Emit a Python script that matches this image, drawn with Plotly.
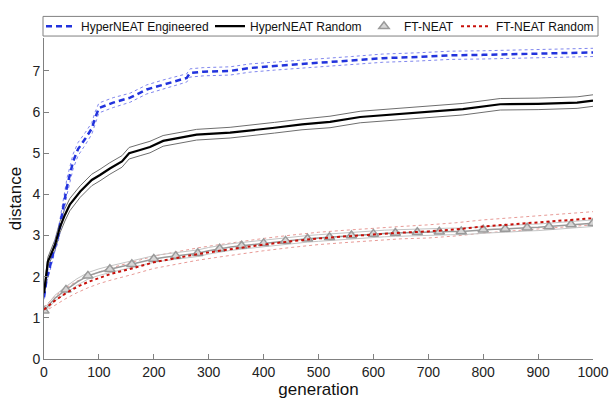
import plotly.graph_objects as go

# ---------------- data ----------------
hne_gen = [0, 5, 10, 16, 20, 26, 33, 42, 53, 62, 75, 87, 93, 100, 126, 157, 187, 217, 260, 266,
           290, 339, 375, 420, 497, 560, 617, 680, 740, 800, 873, 940, 1000]
hne_mean = [1.50, 1.96, 2.20, 2.53, 2.75, 3.00, 3.52, 4.20, 4.80, 5.10, 5.35, 5.60, 5.85, 6.10, 6.23, 6.35,
            6.55, 6.67, 6.83, 6.95, 6.98, 7.00, 7.07, 7.12, 7.19, 7.25, 7.31, 7.34, 7.38, 7.39, 7.41, 7.42, 7.45]
hne_up = [1.55, 2.05, 2.30, 2.65, 2.88, 3.15, 3.70, 4.40, 4.98, 5.26, 5.50, 5.74, 6.00, 6.22, 6.35, 6.46,
          6.66, 6.78, 6.93, 7.05, 7.08, 7.10, 7.17, 7.22, 7.29, 7.35, 7.41, 7.44, 7.48, 7.49, 7.51, 7.53, 7.55]
hne_lo = [1.45, 1.87, 2.10, 2.41, 2.62, 2.85, 3.34, 4.00, 4.62, 4.94, 5.20, 5.46, 5.70, 5.98, 6.11, 6.24,
          6.44, 6.56, 6.73, 6.85, 6.88, 6.90, 6.97, 7.02, 7.09, 7.15, 7.21, 7.24, 7.28, 7.29, 7.31, 7.32, 7.35]

hnr_gen = [0, 7, 20, 29, 38, 47, 66, 87, 102, 120, 142, 155, 175, 193, 217, 248, 278, 339, 375, 420,
           470, 521, 576, 648, 700, 763, 831, 900, 971, 1000]
hnr_mean = [1.60, 2.36, 2.77, 3.20, 3.50, 3.75, 4.07, 4.35, 4.47, 4.63, 4.80, 5.00, 5.08, 5.15, 5.30, 5.38,
            5.45, 5.50, 5.55, 5.62, 5.70, 5.76, 5.88, 5.95, 6.00, 6.07, 6.19, 6.20, 6.23, 6.28]
hnr_up = [1.68, 2.47, 2.90, 3.34, 3.65, 3.90, 4.21, 4.49, 4.61, 4.77, 4.94, 5.14, 5.22, 5.29, 5.43, 5.51,
          5.58, 5.63, 5.68, 5.75, 5.83, 5.90, 6.02, 6.09, 6.14, 6.21, 6.33, 6.34, 6.37, 6.42]
hnr_lo = [1.52, 2.25, 2.64, 3.06, 3.35, 3.60, 3.93, 4.21, 4.33, 4.49, 4.66, 4.86, 4.94, 5.01, 5.17, 5.25,
          5.32, 5.37, 5.42, 5.49, 5.57, 5.62, 5.74, 5.81, 5.86, 5.93, 6.05, 6.06, 6.09, 6.14]

ft_gen = [0, 20, 40, 60, 80, 100, 120, 140, 160, 180, 200, 220, 240, 260, 280, 300, 320, 340, 360, 380,
          400, 420, 440, 460, 480, 500, 520, 540, 560, 580, 600, 620, 640, 660, 680, 700, 720, 740, 760,
          780, 800, 820, 840, 860, 880, 900, 920, 940, 960, 980, 1000]
ft_mean = [1.17, 1.48, 1.68, 1.87, 2.02, 2.11, 2.18, 2.24, 2.30, 2.37, 2.43, 2.47, 2.50, 2.54, 2.57, 2.63,
           2.68, 2.72, 2.75, 2.78, 2.81, 2.84, 2.87, 2.90, 2.92, 2.94, 2.96, 2.98, 3.00, 3.02, 3.04, 3.05,
           3.06, 3.07, 3.08, 3.08, 3.09, 3.10, 3.10, 3.12, 3.14, 3.15, 3.16, 3.18, 3.19, 3.20, 3.22, 3.24,
           3.27, 3.28, 3.30]
ft_up = [1.22, 1.55, 1.76, 1.95, 2.10, 2.19, 2.26, 2.32, 2.38, 2.45, 2.51, 2.55, 2.58, 2.62, 2.65, 2.71,
         2.76, 2.80, 2.83, 2.86, 2.89, 2.92, 2.95, 2.98, 3.00, 3.02, 3.04, 3.06, 3.08, 3.10, 3.12, 3.13,
         3.14, 3.15, 3.16, 3.16, 3.17, 3.18, 3.18, 3.20, 3.22, 3.23, 3.24, 3.26, 3.27, 3.28, 3.30, 3.32,
         3.35, 3.36, 3.38]
ft_lo = [1.12, 1.41, 1.60, 1.79, 1.94, 2.03, 2.10, 2.16, 2.22, 2.29, 2.35, 2.39, 2.42, 2.46, 2.49, 2.55,
         2.60, 2.64, 2.67, 2.70, 2.73, 2.76, 2.79, 2.82, 2.84, 2.86, 2.88, 2.90, 2.92, 2.94, 2.96, 2.97,
         2.98, 2.99, 3.00, 3.00, 3.01, 3.02, 3.02, 3.04, 3.06, 3.07, 3.08, 3.10, 3.11, 3.12, 3.14, 3.16,
         3.19, 3.20, 3.22]
ft_marker_step = 2   # triangles every 40 generations

ftr_gen = [0, 20, 40, 60, 80, 100, 120, 160, 200, 240, 280, 320, 360, 400, 450, 500, 550, 600, 650,
           700, 750, 800, 850, 900, 950, 1000]
ftr_mean = [1.20, 1.42, 1.60, 1.75, 1.87, 1.97, 2.06, 2.20, 2.35, 2.45, 2.55, 2.63, 2.71, 2.78, 2.86,
            2.93, 2.98, 3.03, 3.07, 3.10, 3.15, 3.22, 3.27, 3.31, 3.37, 3.42]
ftr_up = [1.26, 1.53, 1.73, 1.89, 2.01, 2.11, 2.21, 2.35, 2.50, 2.60, 2.70, 2.78, 2.86, 2.93, 3.01,
          3.08, 3.13, 3.18, 3.22, 3.26, 3.31, 3.38, 3.43, 3.47, 3.53, 3.58]
ftr_lo = [1.14, 1.31, 1.47, 1.61, 1.73, 1.83, 1.91, 2.05, 2.20, 2.30, 2.40, 2.48, 2.56, 2.63, 2.71,
          2.78, 2.83, 2.88, 2.92, 2.94, 2.99, 3.06, 3.11, 3.15, 3.21, 3.26]

x_ticks = [0, 100, 200, 300, 400, 500, 600, 700, 800, 900, 1000]
y_ticks = [0, 1, 2, 3, 4, 5, 6, 7]

# ---------------- styles / layout ----------------
W, H = 616, 401
ML, MR, MT, MB = 44, 23, 32, 42
PW, PH = W - ML - MR, H - MT - MB

def px_x(p):  # pixel -> paper x
    return (p - ML) / PW

def px_y(p):  # pixel -> paper y
    return 1 + (MT - p) / PH

BLUE = "#2233dd"
BLUE_BAND = "#7f86ee"
BLACK = "#000000"
BLACK_BAND = "#6e6e6e"
GRAY = "#9a9a9a"
GRAY_BAND = "#c4c4c4"
RED = "#c8100a"
RED_BAND = "#e89a96"

fig = go.Figure()

def band(x, y, color, dash, width=1.0):
    fig.add_trace(go.Scatter(x=x, y=y, mode="lines", showlegend=False, hoverinfo="skip",
                             line=dict(color=color, width=width, dash=dash)))

band(ftr_gen, ftr_up, RED_BAND, "dot")
band(ftr_gen, ftr_lo, RED_BAND, "dot")
band(ft_gen, ft_up, GRAY_BAND, "solid")
band(ft_gen, ft_lo, GRAY_BAND, "solid")
band(hnr_gen, hnr_up, BLACK_BAND, "solid")
band(hnr_gen, hnr_lo, BLACK_BAND, "solid")
band(hne_gen, hne_up, BLUE_BAND, "dot")
band(hne_gen, hne_lo, BLUE_BAND, "dot")

fig.add_trace(go.Scatter(x=hne_gen, y=hne_mean, mode="lines", name="HyperNEAT Engineered",
                         legend="legend", line=dict(color=BLUE, width=2.5, dash="6px,4px")))
fig.add_trace(go.Scatter(x=hnr_gen, y=hnr_mean, mode="lines", name="HyperNEAT Random",
                         legend="legend2", line=dict(color=BLACK, width=2.2)))
fig.add_trace(go.Scatter(x=ft_gen, y=ft_mean, mode="lines", showlegend=False,
                         line=dict(color=GRAY, width=1.5)))
fig.add_trace(go.Scatter(x=ft_gen[::ft_marker_step], y=ft_mean[::ft_marker_step], mode="markers",
                         name="FT-NEAT", legend="legend3",
                         marker=dict(symbol="triangle-up", size=9, color="#d6d6d6",
                                     line=dict(color=GRAY, width=1.5))))
fig.add_trace(go.Scatter(x=ftr_gen, y=ftr_mean, mode="lines", name="FT-NEAT Random",
                         legend="legend4", line=dict(color=RED, width=2, dash="dot")))

axis_common = dict(showgrid=False, zeroline=False, showline=True, linecolor="#808080", linewidth=1,
                   ticks="inside", ticklen=5, tickcolor="#808080", automargin=False,
                   tickfont=dict(family="Liberation Sans, Arial", size=14, color="#222222"))

leg_font = dict(family="Liberation Sans, Arial", size=12, color="#111111")

def leg(xpix):
    return dict(orientation="h", x=px_x(xpix), xanchor="left", y=px_y(20), yanchor="middle",
                borderwidth=0, bgcolor="rgba(0,0,0,0)", font=leg_font, itemwidth=30)

fig.update_layout(
    width=W, height=H,
    margin=dict(l=ML, r=MR, t=MT, b=MB),
    plot_bgcolor="white", paper_bgcolor="white",
    font=dict(family="Liberation Sans, Arial", color="#111111"),
    xaxis=dict(range=[0, 1000], tickvals=x_ticks,
               title=dict(text="generation", font=dict(size=17), standoff=0), **axis_common),
    yaxis=dict(range=[0, 7.8], tickvals=y_ticks,
               title=dict(text="distance", font=dict(size=17), standoff=6), **axis_common),
    legend=leg(41), legend2=leg(210), legend3=leg(364), legend4=leg(456),
    shapes=[dict(type="rect", xref="paper", yref="paper", layer="below",
                 x0=px_x(43), x1=px_x(598), y0=px_y(30), y1=px_y(10),
                 line=dict(color="#808080", width=1), fillcolor="white")],
    showlegend=True,
)

# remove the browser's default 8px body margin so the figure sits at the page origin
fig.write_html("out.html", config={"displayModeBar": False},
               post_script="document.body.style.margin='0';")
